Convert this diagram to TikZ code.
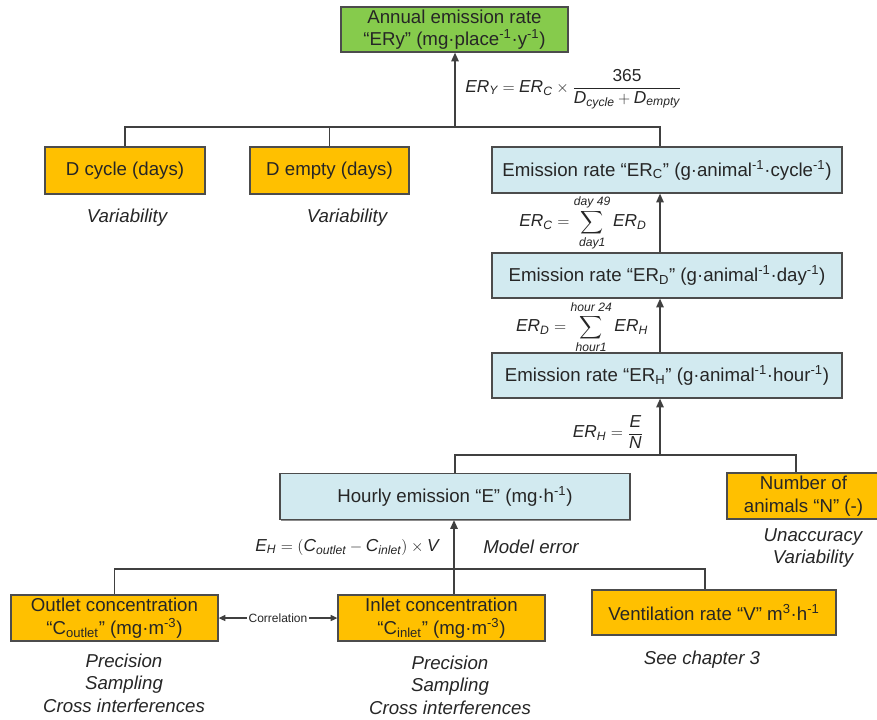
\documentclass[tikz,border=0pt]{standalone}
\usepackage{amsmath}
\usepackage{fontspec}
\setmainfont{Liberation Sans}
\usetikzlibrary{arrows.meta,shadows}

\definecolor{boxorange}{RGB}{255,192,0}
\definecolor{boxblue}{RGB}{210,234,240}
\definecolor{boxgreen}{RGB}{134,203,76}
\definecolor{linegray}{RGB}{64,64,64}

\newcommand{\fm}[1]{\textit{#1}}

\tikzset{
  box/.style={draw=black!70, line width=0.9pt, inner sep=0pt, align=center,
    font=\fontsize{14}{17}\selectfont, text=black!85,
    drop shadow={shadow xshift=0.9pt, shadow yshift=-0.9pt, fill=black!45, opacity=1}},
  boxsize/.style 2 args={minimum width=#1*0.75pt, minimum height=#2*0.75pt},
  varbox/.style={box, fill=boxorange},
  ratebox/.style={box, fill=boxblue},
  topbox/.style={box, fill=boxgreen},
  link/.style={draw=linegray, line width=1.1pt},
  uplink/.style={link, -{Triangle[length=6.5pt,width=5.5pt]}},
  note/.style={align=center, font=\fontsize{14}{17}\selectfont\itshape, text=black!85},
  formula/.style={font=\fontsize{13}{15}\selectfont, text=black!85, inner sep=0pt},
}

\begin{document}
\begin{tikzpicture}[x=0.75pt,y=-0.75pt]
\useasboundingbox (0,0) rectangle (877,719);

% boxes
\node[topbox, boxsize={227}{45}] (ery) at (454.5,29.5)
  {Annual emission rate\\“ERy” (mg·place\textsuperscript{-1}·y\textsuperscript{-1})};
\node[varbox, boxsize={160}{47}] (dcycle) at (125,170.5) {D cycle (days)};
\node[varbox, boxsize={159}{47}] (dempty) at (329.5,170.5) {D empty (days)};
\node[ratebox, boxsize={350}{46}] (erc) at (667,170)
  {Emission rate “ER\textsubscript{C}” (g·animal\textsuperscript{-1}·cycle\textsuperscript{-1})};
\node[ratebox, boxsize={350}{45}] (erd) at (667,275.5)
  {Emission rate “ER\textsubscript{D}” (g·animal\textsuperscript{-1}·day\textsuperscript{-1})};
\node[ratebox, boxsize={350}{45}] (erh) at (667,375.5)
  {Emission rate “ER\textsubscript{H}” (g·animal\textsuperscript{-1}·hour\textsuperscript{-1})};
\node[ratebox, boxsize={350}{46}] (hourly) at (455,496.5)
  {Hourly emission “E” (mg·h\textsuperscript{-1})};
\node[varbox, boxsize={153}{46}] (nanim) at (803.5,496)
  {Number of\\animals “N” (-)};
\node[varbox, boxsize={207}{46}] (outlet) at (114.5,618)
  {Outlet concentration\\“C\textsubscript{outlet}” (mg·m\textsuperscript{-3})};
\node[varbox, boxsize={207}{46}] (inlet) at (441.5,618)
  {Inlet concentration\\“C\textsubscript{inlet}” (mg·m\textsuperscript{-3})};
\node[varbox, boxsize={244}{45}] (vent) at (714,612.5)
  {Ventilation rate “V” m\textsuperscript{3}·h\textsuperscript{-1}};

% junctions
\coordinate (jtop) at (455,127);
\coordinate (trunk) at (660,0);
\coordinate (jmid) at (660,455);
\coordinate (jlow) at (454,569);
\coordinate (ndrop) at (796,0);
\coordinate (vdrop) at (705,0);

% connectors
\draw[link] (dcycle.north) |- (jtop -| trunk) -- (erc.north -| trunk);
\draw[link] (dempty.north) -- (dempty.north |- jtop);
\draw[uplink] (jtop) -- (ery.south -| jtop);
\draw[uplink] (erd.north -| trunk) -- (erc.south -| trunk);
\draw[uplink] (erh.north -| trunk) -- (erd.south -| trunk);
\draw[uplink] (jmid) -- (erh.south -| trunk);
\draw[link] (hourly.north) |- (jmid) -| (nanim.north -| ndrop);
\draw[uplink] (jlow) -- (hourly.south -| jlow);
\draw[link] (outlet.north) |- (jlow -| vdrop) -- (vent.north -| vdrop);
\draw[link] (jlow) -- (inlet.north -| jlow);
\draw[link, {Triangle[length=5pt,width=4.5pt]}-{Triangle[length=5pt,width=4.5pt]}]
  (outlet.east) -- node[fill=white, inner sep=1pt, font=\fontsize{9}{10}\selectfont, text=black!85] {Correlation} (inlet.west);

% formulas
\node[formula, anchor=west] (fery) at (465,89)
  {$\displaystyle \fm{ER}_{\fm{Y}} = \fm{ER}_{\fm{C}} \times \frac{\text{365}}{\fm{D}_{\fm{cycle}} + \fm{D}_{\fm{empty}}}$};
\node[formula] (ferc) at (583,223)
  {$\displaystyle \fm{ER}_{\fm{C}} = \sum\limits_{\fm{day1}}^{\fm{day 49}} \fm{ER}_{\fm{D}}$};
\node[formula] (ferd) at (582,327)
  {$\displaystyle \fm{ER}_{\fm{D}} = \sum\limits_{\fm{hour1}}^{\fm{hour 24}} \fm{ER}_{\fm{H}}$};
\node[formula] (ferh) at (608,432)
  {$\displaystyle \fm{ER}_{\fm{H}} = \frac{\fm{E}}{\fm{N}}$};
\node[formula] (feh) at (347,547)
  {$\fm{E}_{\fm{H}} = \left(\fm{C}_{\fm{outlet}} - \fm{C}_{\fm{inlet}}\right)\times \fm{V}$};

% notes
\foreach \nm/\x/\y/\txt in {dc/127/218/Variability, de/347/218/Variability,
    model/531/547/Model error, na/813/548/{Unaccuracy\\Variability},
    out/124/683/{Precision\\Sampling\\Cross interferences},
    in/450/685/{Precision\\Sampling\\Cross interferences},
    vent/702/660/See chapter 3}
  \node[note] (note\nm) at (\x,\y) {\txt};
\end{tikzpicture}
\end{document}
